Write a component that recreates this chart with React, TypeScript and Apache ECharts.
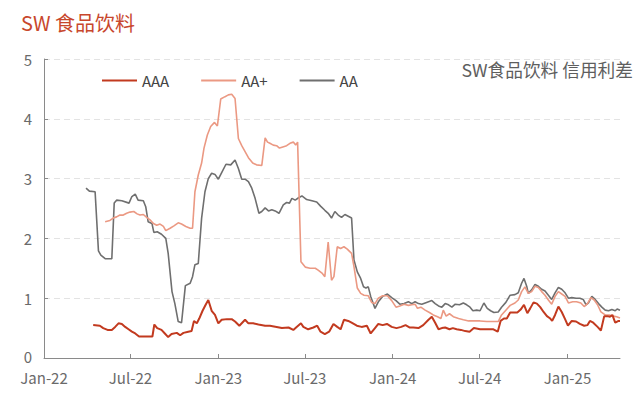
import React, { useEffect, useRef } from "react";
import * as echarts from "echarts";

const seriesNames = ["AAA", "AA+", "AA"];
const yTicks = [0, 1, 2, 3, 4, 5];
const monthNames = ["Jan", "Feb", "Mar", "Apr", "May", "Jun", "Jul", "Aug", "Sep", "Oct", "Nov", "Dec"];

const aaaData: [string, number][] = [
  ["2022-04-14", 0.55], ["2022-04-28", 0.54], ["2022-05-05", 0.5], ["2022-05-14", 0.47], ["2022-05-23", 0.47],
  ["2022-05-30", 0.52], ["2022-06-06", 0.58], ["2022-06-13", 0.57], ["2022-06-20", 0.52], ["2022-06-27", 0.48],
  ["2022-07-04", 0.44], ["2022-07-11", 0.41], ["2022-07-19", 0.36], ["2022-07-28", 0.36], ["2022-08-07", 0.36],
  ["2022-08-16", 0.36], ["2022-08-20", 0.56], ["2022-08-26", 0.5], ["2022-09-04", 0.47], ["2022-09-11", 0.41],
  ["2022-09-18", 0.35], ["2022-09-25", 0.4], ["2022-10-06", 0.42], ["2022-10-13", 0.38], ["2022-10-20", 0.42],
  ["2022-10-30", 0.44], ["2022-11-06", 0.45], ["2022-11-11", 0.62], ["2022-11-17", 0.58], ["2022-11-22", 0.66],
  ["2022-11-29", 0.79], ["2022-12-06", 0.9], ["2022-12-11", 0.97], ["2022-12-18", 0.79], ["2022-12-25", 0.72],
  ["2023-01-01", 0.58], ["2023-01-08", 0.64], ["2023-01-19", 0.65], ["2023-01-29", 0.65], ["2023-02-05", 0.61],
  ["2023-02-14", 0.54], ["2023-02-26", 0.64], ["2023-03-05", 0.58], ["2023-03-15", 0.58], ["2023-03-26", 0.56],
  ["2023-04-09", 0.54], ["2023-04-19", 0.54], ["2023-05-03", 0.52], ["2023-05-14", 0.5], ["2023-05-28", 0.51],
  ["2023-06-07", 0.47], ["2023-06-14", 0.52], ["2023-06-23", 0.58], ["2023-06-28", 0.52], ["2023-07-08", 0.48],
  ["2023-07-19", 0.51], ["2023-07-27", 0.54], ["2023-08-03", 0.44], ["2023-08-12", 0.4], ["2023-08-21", 0.44],
  ["2023-08-30", 0.57], ["2023-09-07", 0.52], ["2023-09-14", 0.48], ["2023-09-21", 0.64], ["2023-09-30", 0.62],
  ["2023-10-07", 0.59], ["2023-10-18", 0.54], ["2023-10-28", 0.52], ["2023-11-08", 0.54], ["2023-11-16", 0.41],
  ["2023-11-25", 0.5], ["2023-12-02", 0.57], ["2023-12-11", 0.55], ["2023-12-20", 0.57], ["2023-12-30", 0.52],
  ["2024-01-09", 0.5], ["2024-01-19", 0.52], ["2024-01-28", 0.55], ["2024-02-06", 0.51], ["2024-02-13", 0.51],
  ["2024-02-24", 0.5], ["2024-03-05", 0.55], ["2024-03-16", 0.64], ["2024-03-23", 0.69], ["2024-03-30", 0.59],
  ["2024-04-06", 0.48], ["2024-04-13", 0.5], ["2024-04-20", 0.51], ["2024-04-29", 0.48], ["2024-05-06", 0.5],
  ["2024-05-14", 0.48], ["2024-05-23", 0.47], ["2024-06-01", 0.45], ["2024-06-10", 0.44], ["2024-06-19", 0.5],
  ["2024-07-02", 0.48], ["2024-07-16", 0.48], ["2024-07-30", 0.48], ["2024-08-08", 0.44], ["2024-08-14", 0.62],
  ["2024-08-21", 0.66], ["2024-08-27", 0.66], ["2024-09-03", 0.76], ["2024-09-10", 0.76], ["2024-09-18", 0.76],
  ["2024-09-25", 0.81], ["2024-10-02", 0.89], ["2024-10-09", 0.75], ["2024-10-15", 0.83], ["2024-10-22", 0.93],
  ["2024-10-29", 0.91], ["2024-11-05", 0.85], ["2024-11-12", 0.77], ["2024-11-19", 0.7], ["2024-11-26", 0.66],
  ["2024-11-30", 0.62], ["2024-12-06", 0.72], ["2024-12-13", 0.86], ["2024-12-20", 0.77], ["2024-12-27", 0.65],
  ["2025-01-02", 0.54], ["2025-01-10", 0.62], ["2025-01-19", 0.61], ["2025-01-27", 0.57], ["2025-02-05", 0.54],
  ["2025-02-12", 0.55], ["2025-02-17", 0.62], ["2025-02-24", 0.59], ["2025-03-05", 0.52], ["2025-03-12", 0.46],
  ["2025-03-19", 0.7], ["2025-03-26", 0.7], ["2025-03-31", 0.69], ["2025-04-05", 0.72], ["2025-04-11", 0.59],
  ["2025-04-18", 0.62], ["2025-04-21", 0.62],
];

const aaPlusData: [string, number][] = [
  ["2022-05-09", 2.28], ["2022-05-19", 2.3], ["2022-05-26", 2.34], ["2022-06-02", 2.36], ["2022-06-09", 2.39],
  ["2022-06-16", 2.39], ["2022-06-23", 2.42], ["2022-06-30", 2.44], ["2022-07-08", 2.45], ["2022-07-15", 2.41],
  ["2022-07-21", 2.39], ["2022-07-28", 2.4], ["2022-08-04", 2.35], ["2022-08-11", 2.31], ["2022-08-18", 2.25],
  ["2022-08-25", 2.22], ["2022-09-01", 2.24], ["2022-09-08", 2.2], ["2022-09-13", 2.13], ["2022-09-22", 2.17],
  ["2022-09-30", 2.21], ["2022-10-09", 2.26], ["2022-10-16", 2.24], ["2022-10-25", 2.2], ["2022-11-03", 2.17],
  ["2022-11-08", 2.17], ["2022-11-13", 2.78], ["2022-11-20", 3.06], ["2022-11-27", 3.26], ["2022-12-02", 3.51],
  ["2022-12-09", 3.73], ["2022-12-16", 3.87], ["2022-12-24", 3.94], ["2022-12-30", 3.88], ["2023-01-06", 4.33],
  ["2023-01-15", 4.37], ["2023-01-22", 4.4], ["2023-01-29", 4.41], ["2023-02-05", 4.34], ["2023-02-12", 3.67],
  ["2023-02-19", 3.55], ["2023-02-26", 3.45], ["2023-03-05", 3.35], ["2023-03-14", 3.26], ["2023-03-22", 3.23],
  ["2023-04-02", 3.22], ["2023-04-09", 3.68], ["2023-04-14", 3.61], ["2023-04-19", 3.59], ["2023-04-26", 3.56],
  ["2023-05-03", 3.55], ["2023-05-09", 3.51], ["2023-05-16", 3.53], ["2023-05-24", 3.55], ["2023-05-31", 3.59],
  ["2023-06-07", 3.61], ["2023-06-12", 3.56], ["2023-06-16", 3.61], ["2023-06-23", 1.61], ["2023-07-02", 1.52],
  ["2023-07-12", 1.5], ["2023-07-23", 1.5], ["2023-07-29", 1.47], ["2023-08-06", 1.42], ["2023-08-12", 1.36],
  ["2023-08-19", 1.94], ["2023-08-26", 1.3], ["2023-08-31", 1.36], ["2023-09-07", 1.86], ["2023-09-14", 1.83],
  ["2023-09-21", 1.86], ["2023-09-28", 1.82], ["2023-10-07", 1.75], ["2023-10-12", 1.53], ["2023-10-19", 1.17],
  ["2023-10-26", 1.08], ["2023-11-02", 1.05], ["2023-11-11", 1.04], ["2023-11-18", 0.93], ["2023-11-25", 0.91],
  ["2023-12-02", 1.0], ["2023-12-11", 1.04], ["2023-12-21", 1.04], ["2023-12-30", 0.96], ["2024-01-08", 0.85],
  ["2024-01-16", 0.87], ["2024-01-25", 0.9], ["2024-02-03", 0.88], ["2024-02-10", 0.89], ["2024-02-17", 0.9],
  ["2024-02-22", 0.83], ["2024-02-29", 0.85], ["2024-03-09", 0.8], ["2024-03-18", 0.76], ["2024-03-26", 0.72],
  ["2024-04-04", 0.69], ["2024-04-11", 0.66], ["2024-04-16", 0.8], ["2024-04-22", 0.7], ["2024-04-29", 0.74],
  ["2024-05-07", 0.69], ["2024-05-18", 0.66], ["2024-05-28", 0.64], ["2024-06-08", 0.62], ["2024-06-18", 0.62],
  ["2024-07-02", 0.62], ["2024-07-16", 0.61], ["2024-07-30", 0.61], ["2024-08-09", 0.61], ["2024-08-16", 0.72],
  ["2024-08-25", 0.8], ["2024-09-03", 0.88], ["2024-09-13", 0.92], ["2024-09-20", 0.97], ["2024-09-27", 1.11],
  ["2024-10-04", 1.19], ["2024-10-11", 1.08], ["2024-10-18", 1.11], ["2024-10-25", 1.2], ["2024-11-01", 1.18],
  ["2024-11-08", 1.11], ["2024-11-15", 1.05], ["2024-11-22", 0.97], ["2024-11-29", 0.9], ["2024-12-06", 1.03],
  ["2024-12-13", 1.11], ["2024-12-20", 1.07], ["2024-12-27", 1.03], ["2025-01-03", 0.92], ["2025-01-12", 0.94],
  ["2025-01-20", 0.94], ["2025-01-29", 0.92], ["2025-02-05", 0.86], ["2025-02-12", 0.91], ["2025-02-19", 1.01],
  ["2025-02-26", 0.97], ["2025-03-05", 0.89], ["2025-03-12", 0.77], ["2025-03-21", 0.72], ["2025-03-30", 0.72],
  ["2025-04-07", 0.7], ["2025-04-14", 0.69], ["2025-04-21", 0.67],
];

const aaData: [string, number][] = [
  ["2022-03-30", 2.84], ["2022-04-06", 2.79], ["2022-04-18", 2.78], ["2022-04-25", 1.79], ["2022-04-30", 1.72],
  ["2022-05-09", 1.66], ["2022-05-23", 1.66], ["2022-05-28", 2.59], ["2022-06-02", 2.64], ["2022-06-13", 2.63],
  ["2022-06-28", 2.59], ["2022-07-04", 2.7], ["2022-07-11", 2.74], ["2022-07-17", 2.64], ["2022-07-28", 2.63],
  ["2022-08-02", 2.53], ["2022-08-07", 2.28], ["2022-08-15", 2.25], ["2022-08-19", 2.1], ["2022-08-26", 2.11],
  ["2022-09-04", 2.07], ["2022-09-13", 2.0], ["2022-09-18", 1.75], ["2022-09-26", 1.11], ["2022-10-02", 0.91],
  ["2022-10-09", 0.61], ["2022-10-16", 0.59], ["2022-10-24", 1.21], ["2022-11-03", 1.25], ["2022-11-08", 1.36],
  ["2022-11-13", 1.56], ["2022-11-20", 1.58], ["2022-11-27", 2.34], ["2022-12-04", 2.78], ["2022-12-11", 3.0],
  ["2022-12-18", 3.09], ["2022-12-25", 3.07], ["2023-01-01", 2.99], ["2023-01-08", 3.1], ["2023-01-17", 3.24],
  ["2023-01-27", 3.23], ["2023-02-05", 3.31], ["2023-02-12", 3.17], ["2023-02-19", 2.99], ["2023-02-26", 2.99],
  ["2023-03-05", 2.95], ["2023-03-12", 2.84], ["2023-03-19", 2.67], ["2023-03-27", 2.42], ["2023-04-02", 2.45],
  ["2023-04-09", 2.51], ["2023-04-16", 2.46], ["2023-04-23", 2.48], ["2023-04-30", 2.46], ["2023-05-08", 2.42],
  ["2023-05-17", 2.56], ["2023-05-24", 2.6], ["2023-05-30", 2.59], ["2023-06-04", 2.67], ["2023-06-11", 2.64],
  ["2023-06-18", 2.68], ["2023-06-25", 2.71], ["2023-07-05", 2.65], ["2023-07-16", 2.63], ["2023-07-26", 2.61],
  ["2023-08-03", 2.54], ["2023-08-12", 2.47], ["2023-08-19", 2.42], ["2023-08-26", 2.34], ["2023-09-02", 2.45],
  ["2023-09-09", 2.39], ["2023-09-16", 2.35], ["2023-09-23", 2.4], ["2023-09-30", 2.37], ["2023-10-07", 2.34],
  ["2023-10-12", 1.64], ["2023-10-19", 1.44], ["2023-10-26", 1.33], ["2023-11-01", 1.19], ["2023-11-06", 1.17],
  ["2023-11-11", 1.19], ["2023-11-16", 1.03], ["2023-11-25", 0.83], ["2023-12-02", 0.94], ["2023-12-11", 1.03],
  ["2023-12-21", 1.07], ["2023-12-30", 1.01], ["2024-01-08", 0.96], ["2024-01-16", 0.9], ["2024-01-25", 0.91],
  ["2024-02-03", 0.94], ["2024-02-10", 0.91], ["2024-02-17", 0.94], ["2024-02-24", 0.91], ["2024-03-02", 0.9],
  ["2024-03-12", 0.93], ["2024-03-23", 0.96], ["2024-03-30", 0.91], ["2024-04-06", 0.87], ["2024-04-13", 0.85],
  ["2024-04-20", 0.91], ["2024-04-27", 0.89], ["2024-05-04", 0.85], ["2024-05-11", 0.9], ["2024-05-20", 0.89],
  ["2024-05-28", 0.92], ["2024-06-04", 0.89], ["2024-06-11", 0.85], ["2024-06-17", 0.79], ["2024-06-25", 0.8],
  ["2024-07-02", 0.79], ["2024-07-10", 0.92], ["2024-07-17", 0.83], ["2024-07-24", 0.79], ["2024-07-31", 0.76],
  ["2024-08-09", 0.77], ["2024-08-16", 0.85], ["2024-08-25", 0.93], ["2024-09-03", 1.05], ["2024-09-13", 1.06],
  ["2024-09-20", 1.09], ["2024-09-27", 1.25], ["2024-10-02", 1.33], ["2024-10-08", 1.19], ["2024-10-11", 1.08],
  ["2024-10-18", 1.14], ["2024-10-25", 1.23], ["2024-11-01", 1.2], ["2024-11-08", 1.15], ["2024-11-15", 1.12],
  ["2024-11-22", 1.05], ["2024-11-29", 0.98], ["2024-12-06", 1.09], ["2024-12-13", 1.18], ["2024-12-20", 1.15],
  ["2024-12-27", 1.09], ["2025-01-03", 1.0], ["2025-01-10", 1.01], ["2025-01-19", 1.0], ["2025-01-27", 1.0],
  ["2025-02-03", 0.98], ["2025-02-09", 0.89], ["2025-02-14", 0.92], ["2025-02-21", 1.03], ["2025-02-28", 0.98],
  ["2025-03-07", 0.91], ["2025-03-14", 0.85], ["2025-03-21", 0.8], ["2025-03-28", 0.79], ["2025-04-04", 0.81],
  ["2025-04-11", 0.79], ["2025-04-15", 0.82], ["2025-04-21", 0.8],
];

const xMin = "2022-01-01";
const xMax = "2025-04-21";
const titleText = "SW 食品饮料";
const noteText = "SW食品饮料 信用利差";

const FONT = '"Noto Sans CJK SC", "Noto Sans", sans-serif';
const colors = ["#c23a1f", "#eb9983", "#6f6f6f"];
const widths = [2, 1.6, 1.6];

export default function App() {
  const ref = useRef<HTMLDivElement>(null);
  useEffect(() => {
    document.body.style.margin = "0";
    const chart = echarts.init(ref.current!, undefined, { renderer: "svg" });
    const dataSets = [aaaData, aaPlusData, aaData];
    chart.setOption({
      animation: false,
      textStyle: { fontFamily: FONT },
      color: colors,
      graphic: [
        {
          type: "text",
          left: 21,
          top: 12,
          style: { text: titleText, fill: "#c8472c", font: `20px ${FONT}` },
        },
        {
          type: "text",
          right: 7,
          top: 60,
          style: { text: noteText, fill: "#5e5e5e", font: `17.7px ${FONT}` },
        },
      ],
      legend: {
        left: 102,
        top: 73,
        padding: 0,
        itemWidth: 35,
        itemHeight: 2,
        itemGap: 32,
        icon: "rect",
        textStyle: { fontSize: 15, color: "#444", fontFamily: FONT },
        data: seriesNames,
      },
      grid: { left: 44, right: 20, top: 59, bottom: 36 },
      xAxis: {
        type: "time",
        min: xMin,
        max: xMax,
        minInterval: 180 * 86400000,
        maxInterval: 184 * 86400000,
        axisLine: { lineStyle: { color: "#8a8a8a", width: 1 } },
        axisTick: { show: true, inside: true, length: 4, lineStyle: { color: "#8a8a8a" } },
        splitLine: { show: false },
        axisLabel: {
          color: "#6a6a6a",
          fontSize: 15,
          lineHeight: 15,
          margin: 12,
          fontFamily: FONT,
          formatter: (v: number) => {
            const d = new Date(v);
            return `${monthNames[d.getMonth()]}-${String(d.getFullYear() % 100).padStart(2, "0")}`;
          },
        },
      },
      yAxis: {
        type: "value",
        min: yTicks[0],
        max: yTicks[yTicks.length - 1],
        interval: 1,
        axisLine: { show: true, lineStyle: { color: "#8a8a8a", width: 1 } },
        axisTick: { show: true, inside: true, length: 4, lineStyle: { color: "#8a8a8a" } },
        splitLine: { show: true, lineStyle: { color: "#e3e3e3", type: [6, 4] } },
        axisLabel: {
          color: "#6a6a6a",
          fontSize: 15,
          lineHeight: 15,
          margin: 12,
          fontFamily: FONT,
          formatter: (v: number) => (v === 0 ? `{z|${v}}` : `${v}`),
          rich: { z: { fontSize: 15, lineHeight: 15, color: "#6a6a6a", fontFamily: FONT, padding: [0, 0, 3, 0] } },
        },
      },
      series: seriesNames.map((name, i) => ({
        name,
        type: "line",
        data: dataSets[i],
        showSymbol: false,
        symbol: "none",
        lineStyle: { width: widths[i], color: colors[i] },
        itemStyle: { color: colors[i] },
        z: 3 - i,
      })),
    });
    return () => chart.dispose();
  }, []);
  return <div ref={ref} style={{ width: 640, height: 394, position: "absolute", left: 0, top: 0 }} />;
}
